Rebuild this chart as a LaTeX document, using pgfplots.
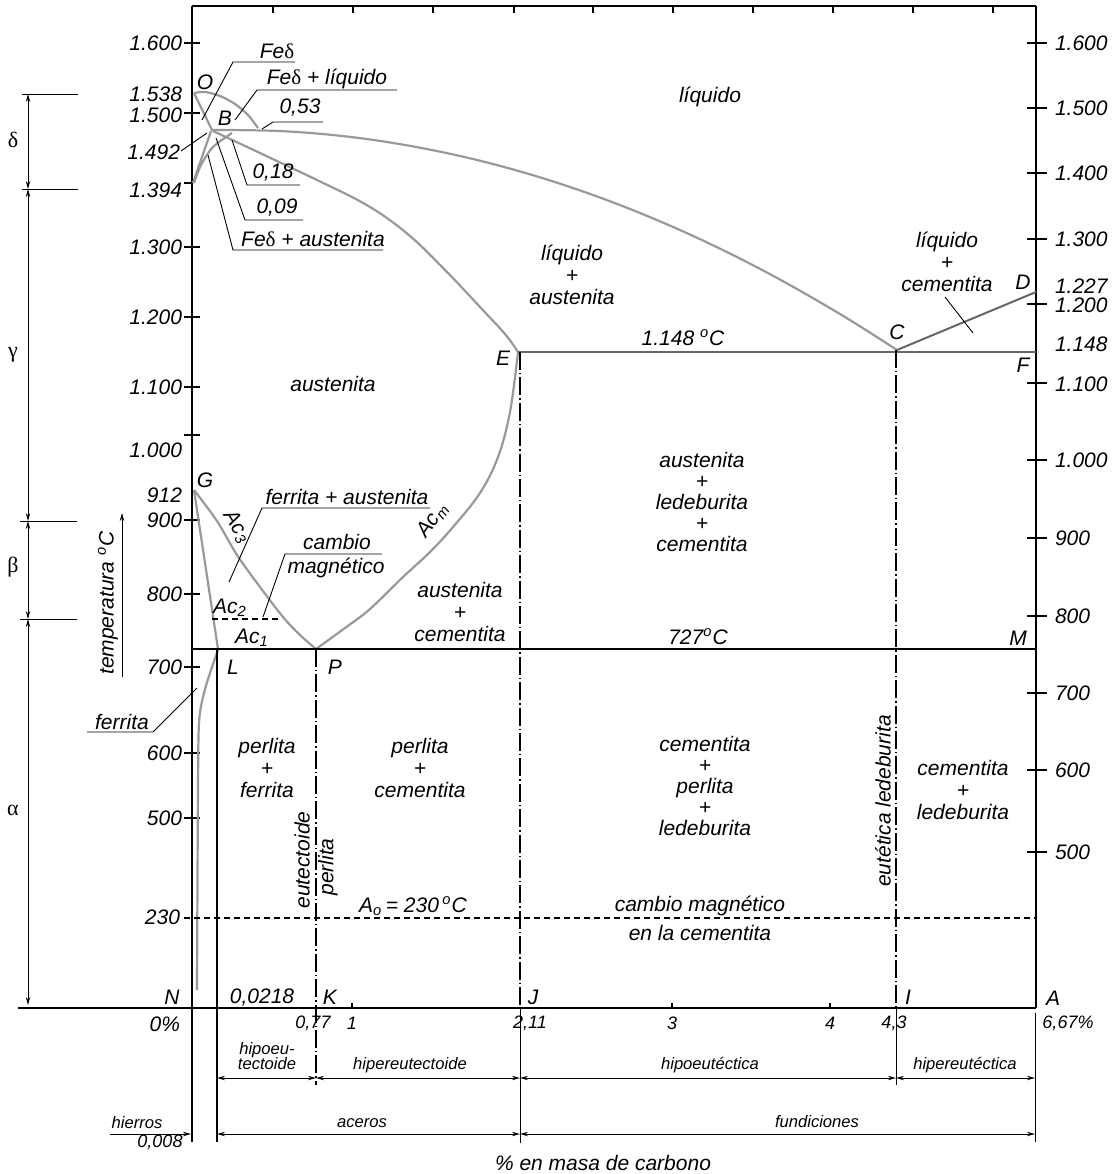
\documentclass[border=0pt]{standalone}
\usepackage{pgfplots}
\pgfplotsset{compat=1.18}
\usepackage{fontspec}
\setmainfont{Liberation Sans}
\newfontfamily\grk{Liberation Serif}
\usetikzlibrary{arrows.meta}
\newcommand{\fs}{\fontsize{10.5}{12}\selectfont\itshape}
\newcommand{\fm}{\fontsize{9}{10.5}\selectfont\itshape}
\newcommand{\fsm}{\fontsize{8.3}{9.5}\selectfont\itshape}
\newcommand{\dl}{{\grk\upshape δ}}
\tikzset{
 blk/.style={black, line width=0.65pt},
 thn/.style={black, line width=0.45pt},
 gry/.style={black!40, line width=1.1pt},
 dgry/.style={black!60, line width=1.0pt},
 dd/.style={black, line width=0.6pt, dash pattern=on 9pt off 1.5pt on 0.7pt off 1.5pt},
 dsh/.style={black, line width=0.55pt, dash pattern=on 3pt off 2pt},
 dim/.style={black, line width=0.5pt, {Stealth[length=4pt,width=2.2pt]}-{Stealth[length=4pt,width=2.2pt]}},
 dimr/.style={black, line width=0.5pt, -{Stealth[length=4pt,width=2.2pt]}},
}
\begin{document}
\begin{tikzpicture}[every node/.style={inner sep=0pt, outer sep=0pt, font=\fs}]
\begin{axis}[
 scale only axis, width=558pt, height=587pt,
 xmin=0, xmax=1116, ymin=0, ymax=1174, y dir=reverse,
 hide axis, clip=false, no marks,
]
\path (axis cs:0,0) rectangle (axis cs:1116,1174);
% frame
\addplot[blk] coordinates {(192,6) (1036,6)};
\addplot[blk] coordinates {(192,6) (192,1142)};
\addplot[blk] coordinates {(1036,6) (1036,1008)};
\addplot[blk] coordinates {(18,1008) (1036,1008)};
% top ticks
\addplot[blk, unbounded coords=jump] coordinates {(273,6)(273,13) (nan,nan) (353,6)(353,13) (nan,nan) (433,6)(433,13) (nan,nan) (514,6)(514,13) (nan,nan) (593,6)(593,13) (nan,nan) (673,6)(673,13) (nan,nan) (753,6)(753,13) (nan,nan) (833,6)(833,13) (nan,nan) (913,6)(913,13) (nan,nan) (993,6)(993,13)};
% left ticks
\addplot[blk, unbounded coords=jump] coordinates {(184,43)(200,43) (nan,nan) (184,113)(200,113) (nan,nan) (184,247)(200,247) (nan,nan) (184,317)(200,317) (nan,nan) (184,387)(200,387) (nan,nan) (184,435)(200,435) (nan,nan) (184,520)(200,520) (nan,nan) (184,594)(200,594) (nan,nan) (184,667)(200,667) (nan,nan) (184,753)(200,753) (nan,nan) (184,818)(200,818) (nan,nan) (184,183)(193,183)};
% right ticks
\addplot[blk, unbounded coords=jump] coordinates {(1027,43)(1047,43) (nan,nan) (1027,108)(1047,108) (nan,nan) (1027,173)(1047,173) (nan,nan) (1027,239)(1047,239) (nan,nan) (1027,304)(1047,304) (nan,nan) (1027,383)(1047,383) (nan,nan) (1027,460)(1047,460) (nan,nan) (1027,538)(1047,538) (nan,nan) (1027,616)(1047,616) (nan,nan) (1027,693)(1047,693) (nan,nan) (1027,770)(1047,770) (nan,nan) (1027,852)(1047,852)};
% bottom ticks
\addplot[blk, unbounded coords=jump] coordinates {(352,1003)(352,1008) (nan,nan) (672,1003)(672,1008) (nan,nan) (830,1003)(830,1008)};
% greek dimension line
\addplot[dim] coordinates {(28,94) (28,189)};
\addplot[dim] coordinates {(28,189) (28,521)};
\addplot[dim] coordinates {(28,521) (28,619)};
\addplot[dim] coordinates {(28,619) (28,1005)};
\addplot[thn, unbounded coords=jump] coordinates {(22,94)(78,94) (nan,nan) (22,189)(78,189) (nan,nan) (20,521)(77,521) (nan,nan) (20,619)(77,619)};
% temperature arrow
\addplot[dimr] coordinates {(122,677) (122,513)};
% phase lines (grey)
\addplot[gry, smooth, tension=0.5] coordinates {(194,93) (205,92) (220,96) (235,104) (248,115) (258,128)};
\addplot[gry] coordinates {(194,93) (212,130)};
\addplot[gry] coordinates {(193,183) (211,131)};
\addplot[gry, smooth, tension=0.5] coordinates {(194,183) (201,165) (213,147) (232,133)};
\addplot[gry, smooth, tension=0.6] coordinates {(211,130) (281,131.1) (351,137) (421,147.9) (491,163.5) (561,184) (631,209.4) (701,239.6) (771,274.7) (841,314.6) (897,350)};
\addplot[gry, smooth, tension=0.6] coordinates {(213,131) (317,180) (370,207) (410,236) (447,272) (480,307) (505,334) (518,352)};
\addplot[gry] coordinates {(194,490) (218,649)};
\addplot[gry, smooth, tension=0.5] coordinates {(194,490) (217,521) (237,555) (260,587) (283,617) (300,635) (316,649)};
\addplot[gry, smooth, tension=0.5] coordinates {(218,650) (210,673) (203,697) (199,723) (198,787) (197,990)};
\addplot[gry, smooth, tension=0.6] coordinates {(316,649) (345,628) (370,609) (403,577) (430,552) (453,527) (480,493) (498,457) (510,412) (518,352)};
\addplot[dgry] coordinates {(518,352) (1036,352)};
\addplot[dgry] coordinates {(897,350) (1036,292)};
% black structure lines
\addplot[blk] coordinates {(192,649) (1036,649)};
\addplot[blk] coordinates {(217,649) (217,1142)};
\addplot[dsh] coordinates {(212,619) (282,619)};
\addplot[dsh] coordinates {(184,918) (1036,918)};
\addplot[dd] coordinates {(316,649) (316,1085)};
\addplot[dd] coordinates {(520,352) (520,1008)};
\addplot[thn] coordinates {(520,1008) (520,1143)};
\addplot[dd] coordinates {(896,350) (896,1008)};
\addplot[thn] coordinates {(896,1008) (896,1085)};
\addplot[thn] coordinates {(1035,1013) (1035,1142)};
% bottom dimension arrows
\addplot[dim] coordinates {(217,1078) (316,1078)};
\addplot[dim] coordinates {(316,1078) (520,1078)};
\addplot[dim] coordinates {(520,1078) (896,1078)};
\addplot[dim] coordinates {(896,1078) (1035,1078)};
\addplot[dimr] coordinates {(110,1134) (191,1134)};
\addplot[dim] coordinates {(217,1134) (520,1134)};
\addplot[dim] coordinates {(520,1134) (1035,1134)};
% leaders and underlines
\addplot[thn] coordinates {(202,120) (233,62) (295,62)};
\addplot[thn] coordinates {(235,120) (257,90) (397,90)};
\addplot[thn] coordinates {(262,129) (273,122) (323,122)};
\addplot[thn] coordinates {(181,151) (207,133)};
\addplot[thn] coordinates {(232,140) (247,185) (300,185)};
\addplot[thn] coordinates {(216,138) (245,220) (303,220)};
\addplot[thn] coordinates {(208,155) (233,250) (383,250)};
\addplot[thn] coordinates {(229,582) (262,508) (430,508)};
\addplot[thn] coordinates {(263,617) (285,554) (382,554)};
\addplot[thn] coordinates {(197,688) (153,732) (87,732)};
\addplot[thn] coordinates {(945,297) (973,333)};

% left labels
\node[anchor=east] at (axis cs:182,43) {1.600};
\node[anchor=east] at (axis cs:182,94) {1.538};
\node[anchor=east] at (axis cs:182,115) {1.500};
\node[anchor=east] at (axis cs:180,152) {1.492};
\node[anchor=east] at (axis cs:182,190) {1.394};
\node[anchor=east] at (axis cs:182,247) {1.300};
\node[anchor=east] at (axis cs:182,317) {1.200};
\node[anchor=east] at (axis cs:182,387) {1.100};
\node[anchor=east] at (axis cs:182,450) {1.000};
\node[anchor=east] at (axis cs:182,495) {912};
\node[anchor=east] at (axis cs:182,520) {900};
\node[anchor=east] at (axis cs:182,594) {800};
\node[anchor=east] at (axis cs:182,667) {700};
\node[anchor=east] at (axis cs:182,753) {600};
\node[anchor=east] at (axis cs:182,818) {500};
\node[anchor=east] at (axis cs:180,917) {230};
% right labels
\node[anchor=west] at (axis cs:1055,43) {1.600};
\node[anchor=west] at (axis cs:1055,108) {1.500};
\node[anchor=west] at (axis cs:1055,173) {1.400};
\node[anchor=west] at (axis cs:1055,239) {1.300};
\node[anchor=west] at (axis cs:1055,286) {1.227};
\node[anchor=west] at (axis cs:1055,305) {1.200};
\node[anchor=west] at (axis cs:1055,344) {1.148};
\node[anchor=west] at (axis cs:1055,384) {1.100};
\node[anchor=west] at (axis cs:1055,460) {1.000};
\node[anchor=west] at (axis cs:1055,538) {900};
\node[anchor=west] at (axis cs:1055,616) {800};
\node[anchor=west] at (axis cs:1055,693) {700};
\node[anchor=west] at (axis cs:1055,770) {600};
\node[anchor=west] at (axis cs:1055,852) {500};
% greek
\node[font=\fontsize{11}{12}\selectfont\grk] at (axis cs:13,140) {δ};
\node[font=\fontsize{11}{12}\selectfont\grk] at (axis cs:13,355) {γ};
\node[font=\fontsize{11}{12}\selectfont\grk] at (axis cs:13,567) {β};
\node[font=\fontsize{11}{12}\selectfont\grk] at (axis cs:13,810) {α};
\node[rotate=90] at (axis cs:108,603) {temperatura \textsuperscript{o}C};
% point letters
\node at (axis cs:205,82) {O};
\node at (axis cs:225,118) {B};
\node at (axis cs:205,480) {G};
\node at (axis cs:503,358) {E};
\node at (axis cs:897,332) {C};
\node at (axis cs:1023,282) {D};
\node at (axis cs:1023,365) {F};
\node at (axis cs:1018,638) {M};
\node at (axis cs:233,667) {L};
\node at (axis cs:335,667) {P};
\node at (axis cs:172,997) {N};
\node at (axis cs:330,997) {K};
\node at (axis cs:533,997) {J};
\node at (axis cs:908,997) {I};
\node at (axis cs:1053,998) {A};
\node at (axis cs:262,997) {0,0218};
% top-left labels
\node at (axis cs:277,51) {Fe\dl};
\node at (axis cs:327,79) {Fe\dl{} + líquido};
\node at (axis cs:300,108) {0,53};
\node at (axis cs:273,173) {0,18};
\node at (axis cs:277,208) {0,09};
\node at (axis cs:313,239) {Fe\dl{} + austenita};
% region labels
\node at (axis cs:710,97) {líquido};
\node[align=center] at (axis cs:572,275) {líquido\\[-1pt]+\\[-1pt]austenita};
\node at (axis cs:683,338) {1.148 \textsuperscript{o}C};
\node[align=center] at (axis cs:947,262) {líquido\\[-1pt]+\\[-1pt]cementita};
\node at (axis cs:333,384) {austenita};
\node[align=center, font=\fs\linespread{0.88}\selectfont] at (axis cs:702,502) {austenita\\+\\ledeburita\\+\\cementita};
\node[align=center] at (axis cs:460,612) {austenita\\[-1pt]+\\[-1pt]cementita};
\node at (axis cs:698,637) {727\textsuperscript{o}C};
\node at (axis cs:347,497) {ferrita + austenita};
\node at (axis cs:337,542) {cambio};
\node at (axis cs:336,568) {magnético};
\node[rotate=-57] at (axis cs:237,527) {Ac\textsubscript{3}};
\node[rotate=55] at (axis cs:433,520) {Ac\textsubscript{m}};
\node at (axis cs:230,608) {Ac\textsubscript{2}};
\node at (axis cs:252,638) {Ac\textsubscript{1}};
\node at (axis cs:122,722) {ferrita};
\node[align=center] at (axis cs:267,768) {perlita\\[-1pt]+\\[-1pt]ferrita};
\node[align=center] at (axis cs:420,768) {perlita\\[-1pt]+\\[-1pt]cementita};
\node[align=center, font=\fs\linespread{0.88}\selectfont] at (axis cs:705,786) {cementita\\+\\perlita\\+\\ledeburita};
\node[align=center] at (axis cs:963,790) {cementita\\[-1pt]+\\[-1pt]ledeburita};
\node[rotate=90] at (axis cs:302,860) {eutectoide};
\node[rotate=90] at (axis cs:328,867) {perlita};
\node[rotate=90] at (axis cs:883,801) {eutética ledeburita};
\node at (axis cs:413,906) {A\textsubscript{o}\,= 230\,\textsuperscript{o}C};
\node at (axis cs:700,906) {cambio magnético};
\node at (axis cs:700,933) {en la cementita};
% bottom axis labels
\node[anchor=east] at (axis cs:180,1024) {0\%};
\node[font=\fm] at (axis cs:313,1023) {0,77};
\node[font=\fm] at (axis cs:352,1023) {1};
\node[font=\fm] at (axis cs:530,1023) {2,11};
\node[font=\fm] at (axis cs:672,1023) {3};
\node[font=\fm] at (axis cs:830,1023) {4};
\node[font=\fm] at (axis cs:894,1023) {4,3};
\node[font=\fm] at (axis cs:1068,1023) {6,67\%};
\node[font=\fsm, align=center] at (axis cs:267,1056) {hipoeu-\\[-2pt]tectoide};
\node[font=\fsm] at (axis cs:410,1065) {hipereutectoide};
\node[font=\fsm] at (axis cs:710,1065) {hipoeutéctica};
\node[font=\fsm] at (axis cs:965,1065) {hipereutéctica};
\node[font=\fsm] at (axis cs:137,1123) {hierros};
\node[font=\fm] at (axis cs:160,1142) {0,008};
\node[font=\fsm] at (axis cs:362,1123) {aceros};
\node[font=\fsm] at (axis cs:817,1122) {fundiciones};
\node at (axis cs:603,1163) {\% en masa de carbono};
\end{axis}
\end{tikzpicture}
\end{document}
